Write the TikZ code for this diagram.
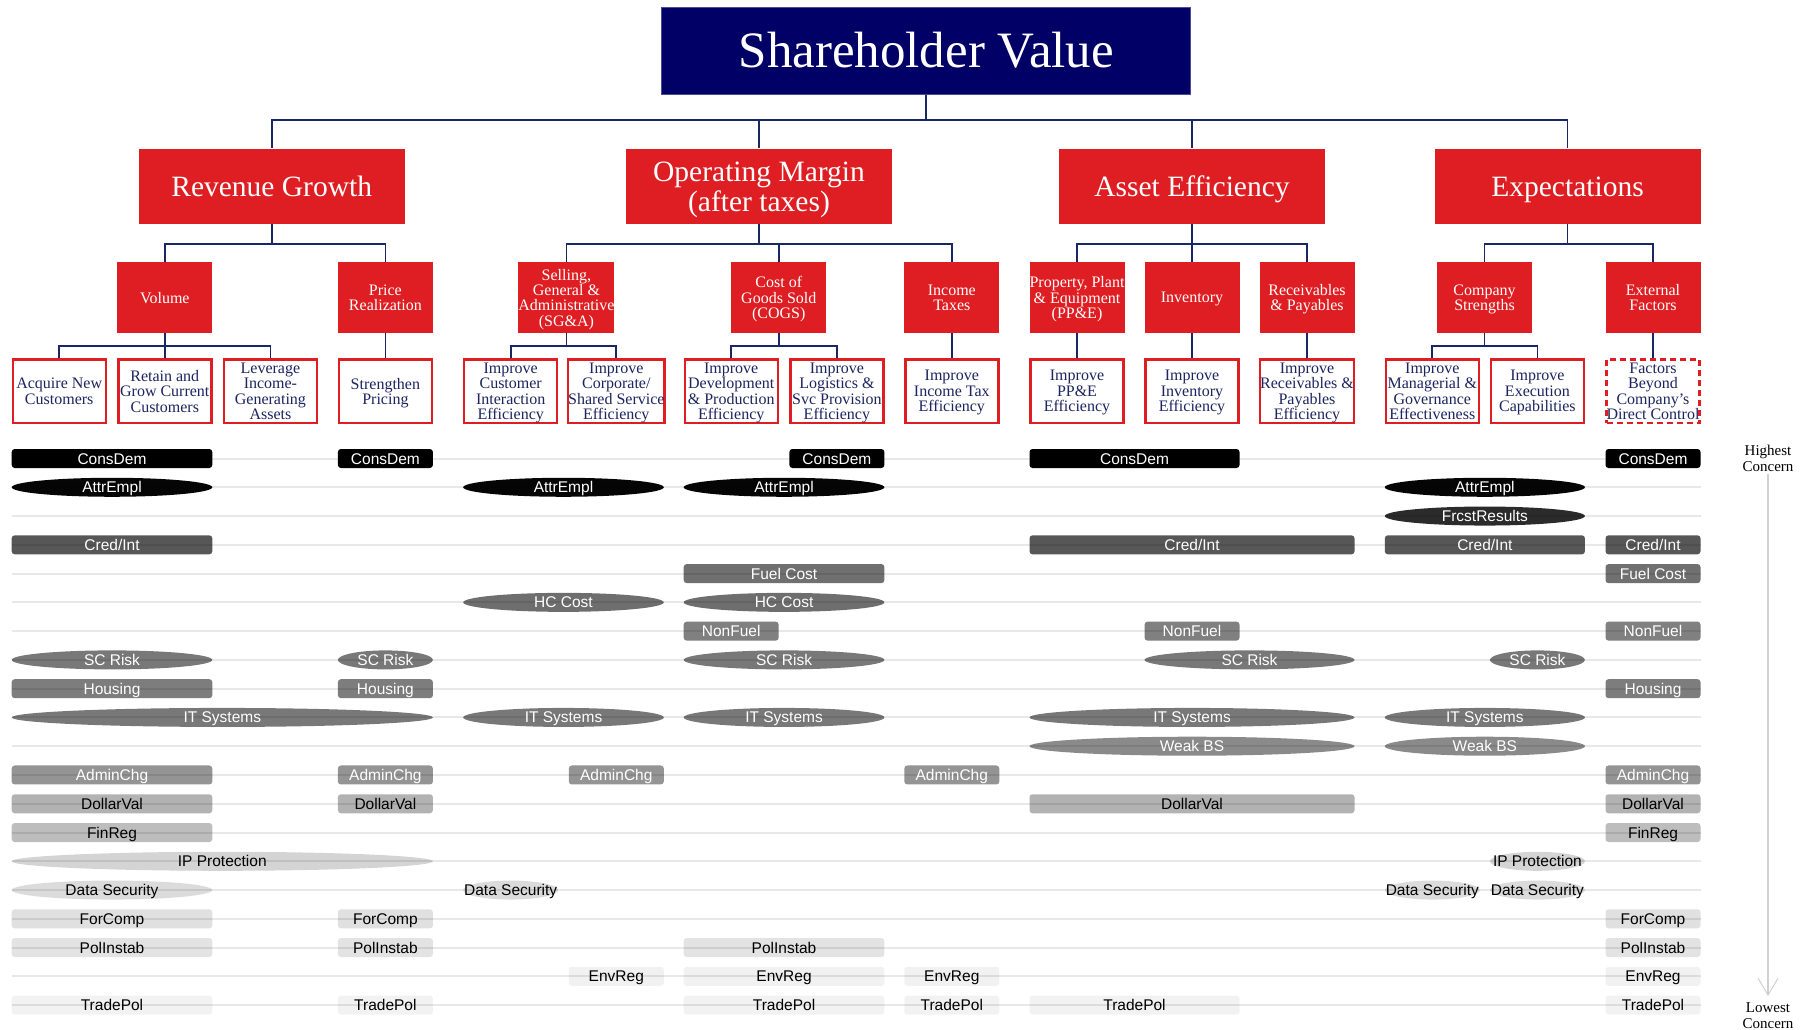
\documentclass[tikz,border=0pt]{standalone}
\usepackage{fontspec}
\setmainfont{Liberation Serif}
\setsansfont{Liberation Sans}
\usetikzlibrary{arrows.meta}
\pgfdeclarelayer{bars}
\pgfdeclarelayer{rowlines}
\pgfsetlayers{bars,rowlines,main}
\definecolor{redc}{RGB}{222,30,34}
\definecolor{navyc}{RGB}{0,0,102}
\definecolor{textnavy}{RGB}{28,37,95}
\definecolor{connc}{RGB}{25,40,100}
\definecolor{arrowgray}{RGB}{208,208,208}
\definecolor{g1}{gray}{0.0}
\definecolor{g2}{gray}{0.02}
\definecolor{g3}{gray}{0.17}
\definecolor{g4}{gray}{0.34}
\definecolor{g5}{gray}{0.44}
\definecolor{g6}{gray}{0.43}
\definecolor{g7}{gray}{0.50}
\definecolor{g8}{gray}{0.47}
\definecolor{g9}{gray}{0.49}
\definecolor{g10}{gray}{0.47}
\definecolor{g11}{gray}{0.54}
\definecolor{g12}{gray}{0.58}
\definecolor{g13}{gray}{0.70}
\definecolor{g14}{gray}{0.74}
\definecolor{g15}{gray}{0.83}
\definecolor{g16}{gray}{0.86}
\definecolor{g17}{gray}{0.88}
\definecolor{g18}{gray}{0.89}
\definecolor{g19}{gray}{0.945}
\definecolor{g20}{gray}{0.95}
\def\colx{{0,59.2,164.8,270.4,385.4,510.7,616.3,731.2,836.9,951.8,1077,1192,1307,1432.3,1537.4,1653}}
\tikzset{
  topbox/.style={fill=navyc, draw=navyc!70!white, line width=1pt, minimum width=529pt, minimum height=87pt,
    text=white, font=\fontsize{51}{55}\selectfont, inner sep=0pt},
  lvlone/.style={fill=redc, minimum width=266pt, minimum height=75.6pt, text=white,
    font=\fontsize{29.5}{30}\selectfont, align=center, inner sep=0pt, text depth=-4.5pt},
  lvltwo/.style={fill=redc, minimum width=95pt, minimum height=70.8pt, text=white,
    font=\fontsize{16}{15.4}\selectfont, align=center, inner sep=0pt, text depth=-1.2pt},
  lvlthree/.style={fill=white, draw=redc, line width=2.4pt, minimum width=93pt, minimum height=63.5pt,
    text=textnavy, font=\fontsize{16}{15.5}\selectfont, align=center, inner sep=0pt, text depth=-2pt},
  conn/.style={draw=connc, line width=1.8pt},
  rowline/.style={draw=black, draw opacity=0.09, line width=2pt},
  bartext/.style={font=\sffamily\fontsize{15.5}{16}\selectfont, inner sep=0pt, text height=11.1pt, text depth=-1pt},
  concern/.style={font=\fontsize{15}{16.5}\selectfont, align=center, inner sep=0pt},
  concernarrow/.style={draw=arrowgray, line width=1.2pt, -{Straight Barb[length=17pt,width=20pt,line width=1pt]}},
}
\newcommand\riskbar[5]{%
  \pgfmathsetmacro\bl{\colx[#2]-47.5}%
  \pgfmathsetmacro\br{\colx[#3]+47.5}%
  \pgfmathsetmacro\bc{(\bl+\br)/2}%
  \pgfmathsetmacro\bhw{(\br-\bl)/2}%
  \pgfmathsetmacro\by{458.5+(#1-1)*28.77}%
  \begin{pgfonlayer}{bars}
    \ifnum#4=0
      \fill[g#1, rounded corners=3pt] (\bl,\by-9.5) rectangle (\br,\by+9.5);
    \else
      \fill[g#1] (\bc,\by) ellipse [x radius=\bhw pt, y radius=9.5pt];
    \fi
  \end{pgfonlayer}
  \ifnum#1<13 \def\btc{white}\else\def\btc{black}\fi
  \node[bartext, text=\btc] (bar-#1-#2) at (\bc,\by) {#5};
}
\begin{document}
\begin{tikzpicture}[x=1pt,y=-1pt]
\useasboundingbox (0,0) rectangle (1820,1029);
% top
\node[topbox] (sv) at (926.3,50.5) {Shareholder Value};
% level 1
\node[lvlone] (rg) at (271.7,186.3) {Revenue Growth};
\node[lvlone] (om) at (759,186.3) {Operating Margin\\(after taxes)};
\node[lvlone] (ae) at (1192,186.3) {Asset Efficiency};
\node[lvlone] (ex) at (1567.5,186.3) {Expectations};
\foreach \c in {rg,om,ae,ex} \draw[conn] (sv.south) -- ++(0,25.6) -| (\c.north);
% level 2
\node[lvltwo] (vol) at (164.8,297.7) {Volume};
\node[lvltwo] (pr) at (385.4,297.7) {Price\\Realization};
\node[lvltwo] (sga) at (566.4,297.7) {Selling,\\General \&\\Administrative\\(SG\&A)};
\node[lvltwo] (cogs) at (778.8,297.7) {Cost of\\Goods Sold\\(COGS)};
\node[lvltwo] (tax) at (951.8,297.7) {Income\\Taxes};
\node[lvltwo] (ppe) at (1077,297.7) {Property, Plant\\\& Equipment\\(PP\&E)};
\node[lvltwo] (inv) at (1192,297.7) {Inventory};
\node[lvltwo] (rec) at (1307,297.7) {Receivables\\\& Payables};
\node[lvltwo] (cs) at (1484.5,297.7) {Company\\Strengths};
\node[lvltwo] (ext) at (1653,297.7) {External\\Factors};
\foreach \c in {vol,pr} \draw[conn] (rg.south) -- ++(0,19.7) -| (\c.north);
\foreach \c in {sga,cogs,tax} \draw[conn] (om.south) -- ++(0,19.7) -| (\c.north);
\foreach \c in {ppe,inv,rec} \draw[conn] (ae.south) -- ++(0,19.7) -| (\c.north);
\foreach \c in {cs,ext} \draw[conn] (ex.south) -- ++(0,19.7) -| (\c.north);
% level 3
\node[lvlthree] (acq) at (59.2,391.2) {Acquire New\\Customers};
\node[lvlthree] (ret) at (164.8,391.2) {Retain and\\Grow Current\\Customers};
\node[lvlthree] (lev) at (270.4,391.2) {Leverage\\Income-\\Generating\\Assets};
\node[lvlthree] (str) at (385.4,391.2) {Strengthen\\Pricing};
\node[lvlthree] (ici) at (510.7,391.2) {Improve\\Customer\\Interaction\\Efficiency};
\node[lvlthree] (ics) at (616.3,391.2) {Improve\\Corporate/\\Shared Service\\Efficiency};
\node[lvlthree] (idp) at (731.2,391.2) {Improve\\Development\\\& Production\\Efficiency};
\node[lvlthree] (ilg) at (836.9,391.2) {Improve\\Logistics \&\\Svc Provision\\Efficiency};
\node[lvlthree] (itx) at (951.8,391.2) {Improve\\Income Tax\\Efficiency};
\node[lvlthree] (ipe) at (1077,391.2) {Improve\\PP\&E\\Efficiency};
\node[lvlthree] (iin) at (1192,391.2) {Improve\\Inventory\\Efficiency};
\node[lvlthree] (irp) at (1307,391.2) {Improve\\Receivables \&\\Payables\\Efficiency};
\node[lvlthree] (img) at (1432.3,391.2) {Improve\\Managerial \&\\Governance\\Effectiveness};
\node[lvlthree] (iex) at (1537.4,391.2) {Improve\\Execution\\Capabilities};
\node[lvlthree, dash pattern=on 6pt off 4pt] (fbc) at (1653,391.2) {Factors\\Beyond\\Company’s\\Direct Control};
\foreach \c in {acq,ret,lev} \draw[conn] (vol.south) -- ++(0,13) -| (\c.north);
\draw[conn] (pr.south) -- (str.north);
\foreach \c in {ici,ics} \draw[conn] (sga.south) -- ++(0,13) -| (\c.north);
\foreach \c in {idp,ilg} \draw[conn] (cogs.south) -- ++(0,13) -| (\c.north);
\draw[conn] (tax.south) -- (itx.north);
\draw[conn] (ppe.south) -- (ipe.north);
\draw[conn] (inv.south) -- (iin.north);
\draw[conn] (rec.south) -- (irp.north);
\foreach \c in {img,iex} \draw[conn] (cs.south) -- ++(0,13) -| (\c.north);
\draw[conn] (ext.south) -- (fbc.north);
% row lines
\begin{pgfonlayer}{rowlines}
\foreach \r in {1,...,20} {
  \pgfmathsetmacro\yy{458.5+(\r-1)*28.77}
  \draw[rowline] (11.6,\yy) -- (1700.5,\yy);
}
\end{pgfonlayer}
% bars: row, first col, last col, shape (0 rect, 1 ellipse), text
\riskbar{1}{1}{2}{0}{ConsDem}
\riskbar{1}{4}{4}{0}{ConsDem}
\riskbar{1}{8}{8}{0}{ConsDem}
\riskbar{1}{10}{11}{0}{ConsDem}
\riskbar{1}{15}{15}{0}{ConsDem}
\riskbar{2}{1}{2}{1}{AttrEmpl}
\riskbar{2}{5}{6}{1}{AttrEmpl}
\riskbar{2}{7}{8}{1}{AttrEmpl}
\riskbar{2}{13}{14}{1}{AttrEmpl}
\riskbar{3}{13}{14}{1}{FrcstResults}
\riskbar{4}{1}{2}{0}{Cred/Int}
\riskbar{4}{10}{12}{0}{Cred/Int}
\riskbar{4}{13}{14}{0}{Cred/Int}
\riskbar{4}{15}{15}{0}{Cred/Int}
\riskbar{5}{7}{8}{0}{Fuel Cost}
\riskbar{5}{15}{15}{0}{Fuel Cost}
\riskbar{6}{5}{6}{1}{HC Cost}
\riskbar{6}{7}{8}{1}{HC Cost}
\riskbar{7}{7}{7}{0}{NonFuel}
\riskbar{7}{11}{11}{0}{NonFuel}
\riskbar{7}{15}{15}{0}{NonFuel}
\riskbar{8}{1}{2}{1}{SC Risk}
\riskbar{8}{4}{4}{1}{SC Risk}
\riskbar{8}{7}{8}{1}{SC Risk}
\riskbar{8}{11}{12}{1}{SC Risk}
\riskbar{8}{14}{14}{1}{SC Risk}
\riskbar{9}{1}{2}{0}{Housing}
\riskbar{9}{4}{4}{0}{Housing}
\riskbar{9}{15}{15}{0}{Housing}
\riskbar{10}{1}{4}{1}{IT Systems}
\riskbar{10}{5}{6}{1}{IT Systems}
\riskbar{10}{7}{8}{1}{IT Systems}
\riskbar{10}{10}{12}{1}{IT Systems}
\riskbar{10}{13}{14}{1}{IT Systems}
\riskbar{11}{10}{12}{1}{Weak BS}
\riskbar{11}{13}{14}{1}{Weak BS}
\riskbar{12}{1}{2}{0}{AdminChg}
\riskbar{12}{4}{4}{0}{AdminChg}
\riskbar{12}{6}{6}{0}{AdminChg}
\riskbar{12}{9}{9}{0}{AdminChg}
\riskbar{12}{15}{15}{0}{AdminChg}
\riskbar{13}{1}{2}{0}{DollarVal}
\riskbar{13}{4}{4}{0}{DollarVal}
\riskbar{13}{10}{12}{0}{DollarVal}
\riskbar{13}{15}{15}{0}{DollarVal}
\riskbar{14}{1}{2}{0}{FinReg}
\riskbar{14}{15}{15}{0}{FinReg}
\riskbar{15}{1}{4}{1}{IP Protection}
\riskbar{15}{14}{14}{1}{IP Protection}
\riskbar{16}{1}{2}{1}{Data Security}
\riskbar{16}{5}{5}{1}{Data Security}
\riskbar{16}{13}{13}{1}{Data Security}
\riskbar{16}{14}{14}{1}{Data Security}
\riskbar{17}{1}{2}{0}{ForComp}
\riskbar{17}{4}{4}{0}{ForComp}
\riskbar{17}{15}{15}{0}{ForComp}
\riskbar{18}{1}{2}{0}{PolInstab}
\riskbar{18}{4}{4}{0}{PolInstab}
\riskbar{18}{7}{8}{0}{PolInstab}
\riskbar{18}{15}{15}{0}{PolInstab}
\riskbar{19}{6}{6}{0}{EnvReg}
\riskbar{19}{7}{8}{0}{EnvReg}
\riskbar{19}{9}{9}{0}{EnvReg}
\riskbar{19}{15}{15}{0}{EnvReg}
\riskbar{20}{1}{2}{0}{TradePol}
\riskbar{20}{4}{4}{0}{TradePol}
\riskbar{20}{7}{8}{0}{TradePol}
\riskbar{20}{9}{9}{0}{TradePol}
\riskbar{20}{10}{11}{0}{TradePol}
\riskbar{20}{15}{15}{0}{TradePol}
% concern scale
\node[concern] (hi) at (1768,458.5) {Highest\\Concern};
\node[concern] (lo) at (1768,1015.5) {Lowest\\Concern};
\draw[concernarrow, shorten <=2pt, shorten >=6pt] (hi.south) -- (lo.north);
\end{tikzpicture}
\end{document}
